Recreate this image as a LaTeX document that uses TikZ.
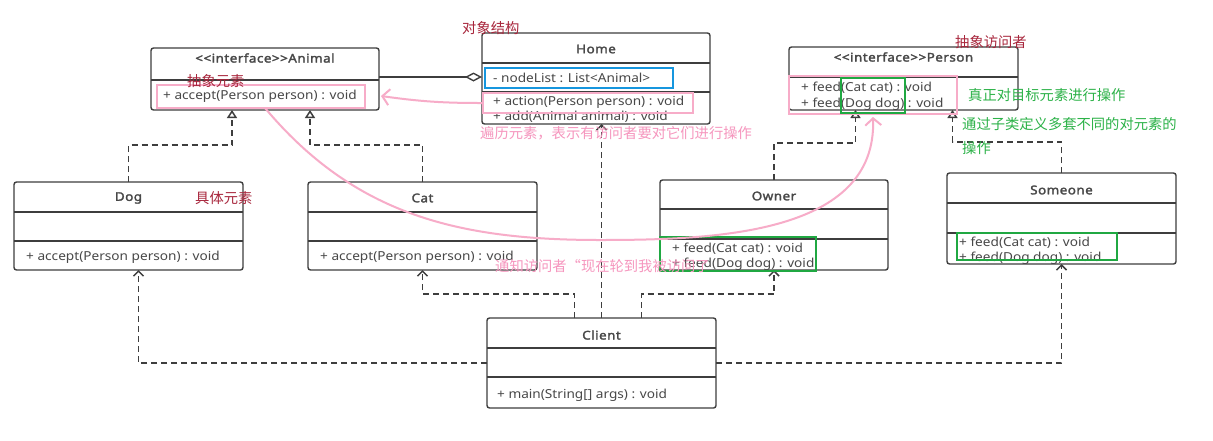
\documentclass[tikz,border=0pt]{standalone}
\usepackage{fontspec}
\setmainfont{Noto Sans}[FakeStretch=1.1]
\newfontfamily\titlefont{Noto Sans}[FakeBold=2.2, FakeStretch=1.12, LetterSpace=4]
\newfontfamily\cjk{Noto Sans CJK SC}
\usetikzlibrary{arrows.meta,calc}

\definecolor{umlgray}{RGB}{62,62,62}
\definecolor{textgray}{RGB}{72,72,72}
\definecolor{pinkc}{RGB}{247,172,200}
\definecolor{pinktext}{RGB}{246,150,190}
\definecolor{greenc}{RGB}{32,168,66}
\definecolor{greentext}{RGB}{44,178,72}
\definecolor{bluec}{RGB}{22,150,222}
\definecolor{darkred}{RGB}{168,38,60}

\tikzset{
  x=1pt, y=-1pt,
  classbox/.style={draw=umlgray, line width=1.4pt, fill=white, rounded corners=2.5pt,
    inner sep=0pt, outer sep=0pt, anchor=north west},
  sepline/.style={draw=umlgray, line width=1.4pt},
  titletext/.style={font=\titlefont\fontsize{12}{13}\selectfont, text=textgray, inner sep=0pt},
  member/.style={font=\fontsize{12.4}{13}\selectfont, text=textgray, anchor=west, inner sep=0pt},
  markbox/.style={draw, line width=2pt, inner sep=0pt, outer sep=0pt, anchor=north west},
  pinkbox/.style={markbox, draw=pinkc},
  greenbox/.style={markbox, draw=greenc},
  bluebox/.style={markbox, draw=bluec},
  note/.style={font=\cjk\fontsize{14.3}{16}\selectfont, anchor=west, inner sep=0pt},
  rednote/.style={note, text=darkred},
  greennote/.style={note, text=greentext},
  pinknote/.style={note, text=pinktext},
  dashline/.style={draw=umlgray, line width=1.6pt, dash pattern=on 6pt off 4pt},
  depend/.style={dashline, -{Straight Barb[length=5pt,width=10pt,line width=1.5pt]}},
  realize/.style={dashline, -{Triangle[open,length=8pt,width=10pt,line width=1.5pt]}},
  aggregate/.style={draw=umlgray, line width=1.4pt, -{Diamond[open,length=17pt,width=9pt,line width=1.4pt]}},
  pinkarrow/.style={draw=pinkc, line width=2pt, -{Straight Barb[length=7pt,width=16pt,line width=2pt]}},
}

\begin{document}
\begin{tikzpicture}
\fill[white] (0,0) rectangle (1213,440);
\useasboundingbox (0,0) rectangle (1213,440);

% ---------- classes ----------
% Animal
\node[classbox, minimum width=228pt, minimum height=62pt] (animal) at (151,48) {};
\draw[sepline] (animal.west |- 0,80) -- (animal.east |- 0,80);
\node[titletext] (animalT) at (animal.north |- 0,58) {<{}<interface>{}>Animal};
\node[member] (animalM) at (163,96) {+ accept(Person person) : void};

% Home
\node[classbox, minimum width=228pt, minimum height=91pt] (home) at (482,33) {};
\draw[sepline] (home.west |- 0,63) -- (home.east |- 0,63);
\draw[sepline] (home.west |- 0,92) -- (home.east |- 0,92);
\node[titletext] (homeT) at (home.north |- 0,49) {Home};
\node[member] (homeA) at (493,78) {- nodeList : List<Animal>};
\node[member] (homeM1) at (493,102) {+ action(Person person) : void};
\node[member] (homeM2) at (493,117) {+ add(Animal animal) : void};

% Person
\node[classbox, minimum width=229pt, minimum height=63pt] (person) at (789,47) {};
\draw[sepline] (person.west |- 0,77) -- (person.east |- 0,77);
\node[titletext] (personT) at (person.north |- 0,57) {<{}<interface>{}>Person};
\node[member] (personM1) at (801,88) {+ feed(Cat cat) : void};
\node[member] (personM2) at (801,104) {+ feed(Dog dog) : void};

% Dog
\node[classbox, minimum width=229pt, minimum height=88pt] (dog) at (14,182) {};
\draw[sepline] (dog.west |- 0,212) -- (dog.east |- 0,212);
\draw[sepline] (dog.west |- 0,241) -- (dog.east |- 0,241);
\node[titletext] (dogT) at (dog.north |- 0,198) {Dog};
\node[member] (dogM) at (26,257) {+ accept(Person person) : void};

% Cat
\node[classbox, minimum width=229pt, minimum height=88pt] (cat) at (308,182) {};
\draw[sepline] (cat.west |- 0,212) -- (cat.east |- 0,212);
\draw[sepline] (cat.west |- 0,241) -- (cat.east |- 0,241);
\node[titletext] (catT) at (cat.north |- 0,198) {Cat};
\node[member] (catM) at (320,257) {+ accept(Person person) : void};

% Owner
\node[classbox, minimum width=228pt, minimum height=90pt] (owner) at (660,180) {};
\draw[sepline] (owner.west |- 0,209) -- (owner.east |- 0,209);
\draw[sepline] (owner.west |- 0,239) -- (owner.east |- 0,239);
\node[titletext] (ownerT) at (owner.north |- 0,196) {Owner};
\node[member] (ownerM1) at (672,249) {+ feed(Cat cat) : void};
\node[member] (ownerM2) at (672,264) {+ feed(Dog dog) : void};

% Someone
\node[classbox, minimum width=229pt, minimum height=91pt] (someone) at (947,173) {};
\draw[sepline] (someone.west |- 0,203) -- (someone.east |- 0,203);
\draw[sepline] (someone.west |- 0,233) -- (someone.east |- 0,233);
\node[titletext] (someoneT) at (someone.north |- 0,190) {Someone};
\node[member] (someoneM1) at (959,243) {+ feed(Cat cat) : void};
\node[member] (someoneM2) at (959,258) {+ feed(Dog dog) : void};

% Client
\node[classbox, minimum width=229pt, minimum height=90pt] (client) at (487,318) {};
\draw[sepline] (client.west |- 0,348) -- (client.east |- 0,348);
\draw[sepline] (client.west |- 0,377) -- (client.east |- 0,377);
\node[titletext] (clientT) at (client.north |- 0,335) {Client};
\node[member] (clientM) at (497,395) {+ main(String[] args) : void};

% ---------- relations ----------
\draw[aggregate] (animal.east |- 0,77) -- (home.west |- 0,77);

\draw[realize] (dog.north) -- ++(0,-37) -| ([xshift=-33pt]animal.south);
\draw[realize] (cat.north) -- ++(0,-37) -| ([xshift=45pt]animal.south);
\draw[realize] (owner.north) -- ++(0,-37) -| ([xshift=-48pt]person.south);
\draw[realize] (someone.north) -- ++(0,-31) -| ([xshift=49pt]person.south);

\draw[depend] (client.west) -| ([xshift=10pt]dog.south);
\draw[depend] (client.east) -| (someone.south);
\draw[depend] ([xshift=-27pt]client.north) -- ++(0,-24) -| (cat.south);
\draw[depend] ([xshift=40pt]client.north) -- ++(0,-24) -| (owner.south);
\draw[depend] (client.north) -- (client.north |- home.south);

% ---------- highlight boxes ----------
\node[pinkbox, minimum width=208pt, minimum height=23pt] (acceptbox) at (157,85) {};
\node[pinkbox, minimum width=210pt, minimum height=20pt] (actionbox) at (483,93) {};
\node[pinkbox, minimum width=168pt, minimum height=38pt] (feedbox) at (789,76) {};
\node[bluebox, minimum width=188pt, minimum height=20pt] (listbox) at (485,68) {};
\node[greenbox, minimum width=64pt, minimum height=35pt] (argbox) at (841,78) {};
\node[greenbox, minimum width=156pt, minimum height=34pt] (ownerbox) at (660,237) {};
\node[greenbox, minimum width=160pt, minimum height=27pt] (someonebox) at (957,233) {};

% ---------- hand-drawn arrows ----------
\coordinate (low) at (600,240);
\coordinate (argtip) at ([yshift=-4pt]argbox.south);
\draw[pinkarrow] (actionbox.west) to[bend left=4] ([xshift=2pt]animal.east |- 0,96);
\draw[draw=pinkc, line width=2pt] ([xshift=-100pt]acceptbox.south east) to[out=-50,in=180] (low);
\draw[pinkarrow] (low) to[out=0,in=-88] (argtip);

% ---------- notes ----------
\node[rednote] (n1) at (462,28) {对象结构};
\node[rednote] (n2) at (955,42) {抽象访问者};
\node[rednote] (n3) at (187,81) {抽象元素};
\node[rednote] (n4) at (195,198) {具体元素};
\node[pinknote] (n5) at (480,133) {遍历元素，表示有访问者要对它们进行操作};
\node[pinknote] (n6) at (495,266) {通知访问者“现在轮到我被访问了};
\node[greennote] (n7) at (968,95) {真正对目标元素进行操作};
\node[greennote] (n8) at (962,124) {通过子类定义多套不同的对元素的};
\node[greennote] (n9) at (962,148) {操作};
\end{tikzpicture}
\end{document}
